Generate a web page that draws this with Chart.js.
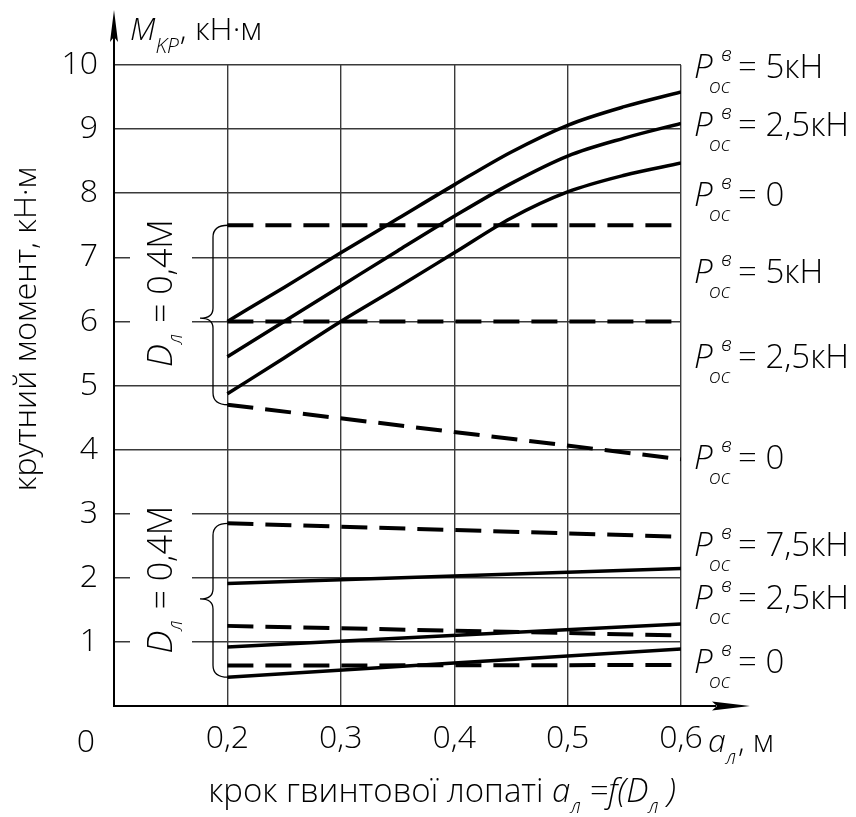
<!DOCTYPE html>
<html><head><meta charset="utf-8">
<script src="https://cdn.jsdelivr.net/npm/chart.js@4/dist/chart.umd.min.js"></script>
<style>html,body{margin:0;padding:0;background:#fff}#wrap{width:856px;height:817px;position:relative}</style>
</head><body><div id="wrap"><canvas id="c" width="856" height="817"></canvas></div>
<script>
// ---- data ----
const xCurve = [0.2, 0.25, 0.3, 0.35, 0.4, 0.45, 0.5, 0.55, 0.6];
const upperSolid5  = [6.00, 6.53, 7.07, 7.60, 8.13, 8.64, 9.06, 9.35, 9.58];
const upperSolid25 = [5.45, 6.00, 6.55, 7.10, 7.64, 8.15, 8.58, 8.86, 9.09];
const upperSolid0  = [4.87, 5.43, 6.00, 6.53, 7.07, 7.61, 8.02, 8.28, 8.47];
const xLine = [0.2, 0.6];
const upperDash5  = [7.5, 7.5];
const upperDash25 = [6.0, 6.0];
const upperDash0  = [4.70, 3.85];
const lowerDash75  = [2.85, 2.64];
const lowerSolid75 = [1.91, 2.145];
const lowerDash25  = [1.25, 1.10];
const lowerSolid25 = [0.92, 1.28];
const lowerDash0   = [0.63, 0.64];
const lowerSolid0  = [0.45, 0.89];
const yTickValues = [0,1,2,3,4,5,6,7,8,9,10];
const xTickValues = [0.1,0.2,0.3,0.4,0.5,0.6];
// right-hand labels: text and the y value they sit at
const rightLabelText = ['= 5кН','= 2,5кН','= 0','= 5кН','= 2,5кН','= 0','= 7,5кН','= 2,5кН','= 0'];
const rightLabelAt   = [9.97, 9.06, 7.97, 6.77, 5.44, 3.87, 2.51, 1.68, 0.69];
// braces: [top, tip, bottom] in y values, and label centre
const braceUpper = [7.5, 6.05, 4.7];
const braceLower = [2.85, 1.67, 0.45];
const braceLabelAt = [6.44, 1.97];

const FAM = "'Open Sans', 'DejaVu Sans', sans-serif";
const pts = (xs, ys) => xs.map((x, i) => ({x, y: ys[i]}));
const solid = (xs, ys) => ({data: pts(xs, ys), borderColor:'#000', borderWidth:3.5, pointRadius:0, fill:false, cubicInterpolationMode:'monotone'});
const dashed = (xs, ys) => ({data: pts(xs, ys), borderColor:'#000', borderWidth:4, borderDash:[26,12], pointRadius:0, fill:false});

function runs(ctx, list, x, y, align) {
  let total = 0;
  list.forEach(r => { ctx.font = r.f; r.w = ctx.measureText(r.t).width; total += r.w + (r.gap||0); });
  let cx = align === 'center' ? x - total/2 : x;
  ctx.textAlign = 'left'; ctx.textBaseline = 'alphabetic';
  list.forEach(r => { ctx.font = r.f; ctx.fillText(r.t, cx, y + (r.dy||0)); cx += r.w + (r.gap||0); });
  return total;
}

function brace(ctx, x, yTop, yTip, yBot) {
  ctx.beginPath();
  ctx.moveTo(x + 15, yTop);
  ctx.quadraticCurveTo(x, yTop, x, yTop + 12);
  ctx.lineTo(x, yTip - 10);
  ctx.quadraticCurveTo(x, yTip, x - 13, yTip);
  ctx.quadraticCurveTo(x, yTip, x, yTip + 10);
  ctx.lineTo(x, yBot - 12);
  ctx.quadraticCurveTo(x, yBot, x + 15, yBot);
  ctx.stroke();
}

const deco = {
  id: 'deco',
  afterDraw(chart) {
    const {ctx, scales: {x, y}, chartArea: a} = chart;
    ctx.save();
    ctx.fillStyle = '#000'; ctx.strokeStyle = '#000';
    // axis arrows
    ctx.lineWidth = 2;
    ctx.beginPath(); ctx.moveTo(a.left, a.top); ctx.lineTo(a.left, 36); ctx.stroke();
    ctx.beginPath(); ctx.moveTo(a.left, 10); ctx.lineTo(a.left - 4, 42); ctx.lineTo(a.left, 37); ctx.lineTo(a.left + 4, 42); ctx.closePath(); ctx.fill();
    ctx.beginPath(); ctx.moveTo(a.right, a.bottom); ctx.lineTo(716, a.bottom); ctx.stroke();
    ctx.beginPath(); ctx.moveTo(750, a.bottom); ctx.lineTo(712, a.bottom - 4.5); ctx.lineTo(717, a.bottom); ctx.lineTo(712, a.bottom + 4.5); ctx.closePath(); ctx.fill();

    const R = s => `300 ${s}px ${FAM}`;
    const I = s => `italic 300 ${s}px ${FAM}`;

    // origin label
    ctx.font = R(32); ctx.textAlign = 'center'; ctx.fillText('0', 86, 752);
    // y-axis unit label at top
    runs(ctx, [{t:'M', f:I(31)}, {t:'KP', f:I(21), dy:13, gap:1}, {t:', кН·м', f:R(32)}], 130, 40, 'left');
    // x-axis unit label
    runs(ctx, [{t:'a', f:I(32)}, {t:'л', f:I(20), dy:12, gap:2}, {t:', м', f:R(31)}], 708, 752, 'left');
    // x-axis title
    runs(ctx, [{t:'крок гвинтової лопаті ', f:R(33)}, {t:'a', f:I(33)}, {t:'л', f:I(20), dy:11}, {t:' =f(D', f:I(33)}, {t:'л', f:I(20), dy:11}, {t:' )', f:I(33)}], 442, 802, 'center');
    // y-axis title
    ctx.save(); ctx.translate(36, 329); ctx.rotate(-Math.PI/2);
    ctx.font = R(32); ctx.textAlign = 'center'; ctx.fillText('крутний момент, кН·м', 0, 0);
    ctx.restore();

    // right labels
    rightLabelText.forEach((t, i) => {
      const yc = y.getPixelForValue(rightLabelAt[i]);
      ctx.font = I(33); ctx.textAlign = 'left'; ctx.fillText('P', 694, yc + 11);
      ctx.font = I(21); ctx.fillText('в', 721, yc - 6);
      ctx.font = I(21); ctx.fillText('oc', 709, yc + 26);
      ctx.font = R(33); ctx.fillText(t, 738, yc + 11);
    });

    // braces + D labels
    ctx.lineWidth = 1.3;
    [braceUpper, braceLower].forEach((b, i) => {
      brace(ctx, 213, y.getPixelForValue(b[0]), y.getPixelForValue(b[1]), y.getPixelForValue(b[2]));
      const yc = y.getPixelForValue(braceLabelAt[i]);
      ctx.fillStyle = '#fff'; ctx.fillRect(130, yc - 86, 62, 172);
      ctx.fillStyle = '#000';
      ctx.save(); ctx.translate(172, yc); ctx.rotate(-Math.PI/2);
      runs(ctx, [{t:'D', f:I(34)}, {t:'л', f:I(20), dy:10, gap:2}, {t:' = 0,4М', f:R(34)}], 0, 0, 'center');
      ctx.restore();
    });
    ctx.restore();
  }
};

new Chart(document.getElementById('c'), {
  type: 'line',
  data: {
    datasets: [
      solid(xCurve, upperSolid5), solid(xCurve, upperSolid25), solid(xCurve, upperSolid0),
      dashed(xLine, upperDash5), dashed(xLine, upperDash25), dashed(xLine, upperDash0),
      dashed(xLine, lowerDash75), solid(xLine, lowerSolid75),
      dashed(xLine, lowerDash25), solid(xLine, lowerSolid25),
      dashed(xLine, lowerDash0), solid(xLine, lowerSolid0)
    ]
  },
  options: {
    responsive: false, animation: false, devicePixelRatio: 1,
    layout: {padding: {left: 0, right: 175, top: 65, bottom: 0}},
    plugins: {legend: {display: false}, tooltip: {enabled: false}},
    scales: {
      x: {
        type: 'linear', min: 0.1, max: 0.6,
        afterBuildTicks: s => { s.ticks = xTickValues.map(v => ({value: v})); },
        afterFit: s => { s.height = 111; },
        grid: {color: '#3a3a3a', lineWidth: 1.4, drawTicks: false},
        border: {color: '#000', width: 2},
        ticks: {padding: 14, color: '#000', font: {family: FAM, size: 32, weight: '300'},
          callback: v => Math.abs(v - 0.1) < 1e-6 ? '' : v.toFixed(1).replace('.', ',')}
      },
      y: {
        min: 0, max: 10,
        afterBuildTicks: s => { s.ticks = yTickValues.map(v => ({value: v})); },
        afterFit: s => { s.width = 114; },
        grid: {color: '#3a3a3a', lineWidth: 1.4, drawTicks: false},
        border: {color: '#000', width: 2},
        ticks: {padding: 16, color: '#000', font: {family: FAM, size: 32, weight: '300'},
          callback: v => v === 0 ? '' : String(v)}
      }
    }
  },
  plugins: [deco]
});
</script></body></html>
